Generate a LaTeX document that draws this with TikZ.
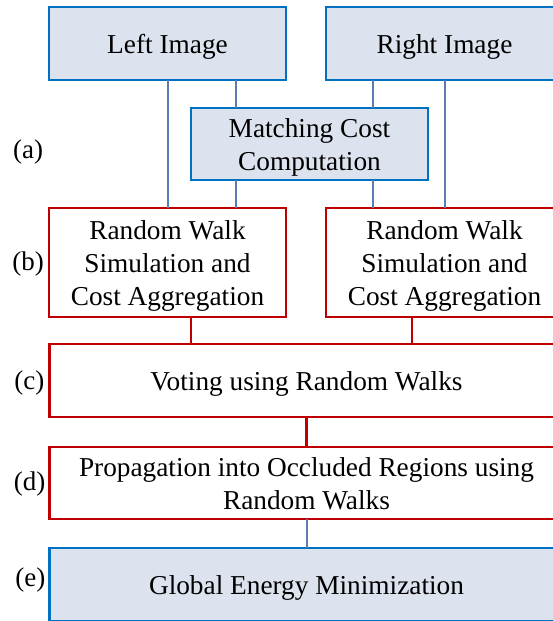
\documentclass[tikz,border=0pt]{standalone}
\usepackage{fontspec}
\setmainfont{Liberation Serif}
\usepackage{tikz}
\usetikzlibrary{positioning,calc}
\definecolor{boxfill}{HTML}{DCE3EE}
\definecolor{boxblue}{HTML}{0070C0}
\definecolor{linkblue}{HTML}{5B7DB1}
\definecolor{boxred}{HTML}{C00000}
\tikzset{
  txt/.style={font=\fontsize{27.3}{33}\selectfont, align=center, inner sep=0pt, outer sep=0pt,
    text depth=0pt, text height=20.5pt},
  two lines/.style={text height=53.5pt},
  three lines/.style={text height=86.5pt},
  bluebox/.style={txt, draw=boxblue, fill=boxfill, line width=2.6pt},
  redbox/.style={txt, draw=boxred, fill=white, line width=2.6pt},
  bline/.style={draw=linkblue, line width=2pt},
  rline/.style={draw=boxred, line width=2.6pt},
  tag/.style={font=\fontsize{27}{33}\selectfont, inner sep=0pt}
}

\begin{document}
\begin{tikzpicture}[x=1pt,y=-1pt]
\clip (0,0) rectangle (553,621);
% stage (a)
\node[bluebox, minimum width=237, minimum height=73] (limg) at (167.5,43.5) {Left Image};
\node[bluebox, minimum width=237, minimum height=73] (rimg) at (444.5,43.5) {Right Image};
\node[bluebox, two lines, minimum width=237, minimum height=72] (mcc) at (309.5,144) {Matching Cost\\Computation};
% stage (b)
\node[redbox, three lines, minimum width=237, minimum height=109] (rwl) at (167.5,262.5) {Random Walk\\Simulation and\\Cost Aggregation};
\node[redbox, three lines, minimum width=237, minimum height=109] (rwr) at (444.5,262.5) {Random Walk\\Simulation and\\Cost Aggregation};
% stages (c)-(e)
\node[redbox, minimum width=514, minimum height=73] (vote) at (306.5,380.5) {Voting using Random Walks};
\node[redbox, two lines, minimum width=514, minimum height=72] (prop) at (306.5,483) {Propagation into Occluded Regions using\\Random Walks};
\node[bluebox, minimum width=514, minimum height=73] (gem) at (306.5,584.5) {Global Energy Minimization};

% links
\draw[bline] (limg.south) -- (rwl.north);
\draw[bline] (rimg.south) -- (rwr.north);
\draw[bline] ([xshift=-73.5pt]mcc.north) -- ([xshift=-73.5pt]mcc.north |- limg.south);
\draw[bline] ([xshift=63.5pt]mcc.north) -- ([xshift=63.5pt]mcc.north |- rimg.south);
\draw[bline] ([xshift=-73.5pt]mcc.south) -- ([xshift=-73.5pt]mcc.south |- rwl.north);
\draw[bline] ([xshift=63.5pt]mcc.south) -- ([xshift=63.5pt]mcc.south |- rwr.north);
\draw[rline] ([xshift=23.5pt]rwl.south) -- ([xshift=23.5pt]rwl.south |- vote.north);
\draw[rline] ([xshift=-32.5pt]rwr.south) -- ([xshift=-32.5pt]rwr.south |- vote.north);
\draw[rline] (vote.south) -- (prop.north);
\draw[bline] (prop.south) -- (gem.north);

% stage tags
\node[tag, left=5pt of rwl, yshift=-2pt] (tb) {(b)};
\node[tag] (ta) at (tb |- mcc) [yshift=-8pt] {(a)};
\node[tag, left=5pt of vote, yshift=-3pt] (tc) {(c)};
\node[tag, left=4pt of prop, yshift=-1pt] (td) {(d)};
\node[tag, left=4pt of gem, yshift=5pt] (te) {(e)};
\end{tikzpicture}
\end{document}
